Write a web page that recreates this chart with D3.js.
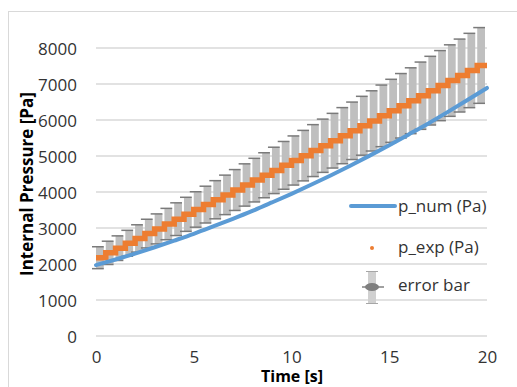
<html>
<head>
<script src="https://d3js.org/d3.v7.min.js"></script>
<style>
  body { margin: 0; background: #fff; }
  text { font-family: "Open Sans", sans-serif; }
</style>
</head>
<body>
<div id="container"></div>
<script>
// numerical model, every 1 s
const numTime = [0, 1, 2, 3, 4, 5, 6, 7, 8, 9, 10, 11, 12, 13, 14, 15, 16, 17, 18, 19, 20]
const numPressure = [1970, 2125, 2290, 2465, 2650, 2840, 3045, 3255, 3475, 3710, 3950,
  4200, 4460, 4730, 5010, 5300, 5600, 5905, 6225, 6555, 6890]

// experiment, held over 0.5 s steps (step start times)
const expTime = [0, 0.5, 1, 1.5, 2, 2.5, 3, 3.5, 4, 4.5, 5, 5.5, 6, 6.5, 7, 7.5, 8, 8.5, 9, 9.5,
  10, 10.5, 11, 11.5, 12, 12.5, 13, 13.5, 14, 14.5, 15, 15.5, 16, 16.5, 17, 17.5, 18, 18.5, 19, 19.5]
const expPressure = [2175, 2310, 2440, 2575, 2710, 2845, 2975, 3110, 3245, 3380,
  3515, 3650, 3785, 3920, 4055, 4195, 4330, 4465, 4600, 4740,
  4875, 5010, 5150, 5285, 5425, 5565, 5700, 5840, 5975, 6115,
  6255, 6395, 6535, 6675, 6815, 6955, 7095, 7235, 7375, 7515]
const stepWidth = 0.5
const errorPct = 0.14

const xTicks = [0, 5, 10, 15, 20]
const yTicks = [0, 1000, 2000, 3000, 4000, 5000, 6000, 7000, 8000]
const legendLabels = ['p_num (Pa)', 'p_exp (Pa)', 'error bar']

const width = 517, height = 387
const svg = d3.select('#container').append('svg')
  .attr('width', width).attr('height', height)

// chart area border
svg.append('rect')
  .attr('x', 8.5).attr('y', 11.5).attr('width', 540).attr('height', 420)
  .attr('fill', 'none').attr('stroke', '#d9d9d9')

const x = d3.scaleLinear().domain([0, 20]).range([96, 487])
const y = d3.scaleLinear().domain([0, 8000]).range([336, 48])

// gridlines
svg.append('g').selectAll('line').data(yTicks).join('line')
  .attr('x1', x(0)).attr('x2', x(20))
  .attr('y1', d => y(d)).attr('y2', d => y(d))
  .attr('stroke', '#d9d9d9').attr('stroke-width', 1.3)

// y tick labels
const yAxis = d3.axisLeft(y).tickValues(yTicks).tickSize(0).tickPadding(0).tickFormat(d3.format('d'))
svg.append('g').attr('transform', 'translate(77,0)').call(yAxis)
  .call(g => g.select('.domain').remove())
  .selectAll('text').attr('font-size', 17).attr('fill', '#333')
  .attr('font-family', '"Open Sans", sans-serif').attr('dy', '0.36em')

// x tick labels
const xAxis = d3.axisBottom(x).tickValues(xTicks).tickSize(0).tickPadding(0)
svg.append('g').attr('transform', 'translate(0,349)').call(xAxis)
  .call(g => g.select('.domain').remove())
  .selectAll('text').attr('font-size', 17).attr('fill', '#333')
  .attr('font-family', '"Open Sans", sans-serif').attr('dy', '0.85em')

// error bars
const exp = expTime.map((t, i) => ({ t: t, p: expPressure[i] }))
const hi = d => y(d.p * (1 + errorPct))
const lo = d => y(d.p * (1 - errorPct))
const eb = svg.append('g')
eb.selectAll('rect').data(exp).join('rect')
  .attr('x', d => x(d.t))
  .attr('width', d => x(d.t + stepWidth) - x(d.t) - 2)
  .attr('y', hi)
  .attr('height', d => lo(d) - hi(d))
  .attr('fill', '#bfbfbf')
eb.selectAll('line.top').data(exp).join('line').attr('class', 'top')
  .attr('x1', d => x(d.t) - 4).attr('x2', d => x(d.t + stepWidth) - 2)
  .attr('y1', hi).attr('y2', hi)
  .attr('stroke', '#7a7a7a').attr('stroke-width', 1.5)
eb.selectAll('line.bot').data(exp).join('line').attr('class', 'bot')
  .attr('x1', d => x(d.t) - 4).attr('x2', d => x(d.t + stepWidth) - 2)
  .attr('y1', lo).attr('y2', lo)
  .attr('stroke', '#7a7a7a').attr('stroke-width', 1.5)

// experimental points (dense markers form a staircase)
const stepPts = exp.map(d => [d.t, d.p])
stepPts.push([20, expPressure[expPressure.length - 1]])
svg.append('path')
  .datum(stepPts)
  .attr('d', d3.line().x(d => x(d[0])).y(d => y(d[1])).curve(d3.curveStepAfter))
  .attr('fill', 'none').attr('stroke', '#ed7d31').attr('stroke-width', 5.5)

// numerical line
const line = d3.line().x(d => x(d[0])).y(d => y(d[1])).curve(d3.curveMonotoneX)
svg.append('path')
  .datum(numTime.map((t, i) => [t, numPressure[i]]))
  .attr('d', line)
  .attr('fill', 'none').attr('stroke', '#5b9bd5').attr('stroke-width', 4)
  .attr('stroke-linecap', 'round')

// axis titles
svg.append('text')
  .attr('transform', 'translate(33,184) rotate(-90)')
  .attr('text-anchor', 'middle').attr('font-size', 17).attr('font-weight', 'bold')
  .attr('fill', '#000').text('Internal Pressure [Pa]')
svg.append('text')
  .attr('x', 292).attr('y', 382)
  .attr('text-anchor', 'middle').attr('font-size', 16).attr('font-weight', 'bold')
  .attr('fill', '#000').text('Time [s]')

// legend
const lg = svg.append('g')
lg.append('line').attr('x1', 351).attr('x2', 395).attr('y1', 206).attr('y2', 206)
  .attr('stroke', '#5b9bd5').attr('stroke-width', 4).attr('stroke-linecap', 'round')
lg.append('circle').attr('cx', 372).attr('cy', 248).attr('r', 2)
  .attr('fill', '#ed7d31')
lg.append('rect').attr('x', 368).attr('y', 271).attr('width', 8).attr('height', 33)
  .attr('fill', '#d0d0d0')
lg.append('line').attr('x1', 366).attr('x2', 378).attr('y1', 271.5).attr('y2', 271.5)
  .attr('stroke', '#a6a6a6')
lg.append('line').attr('x1', 366).attr('x2', 378).attr('y1', 303.5).attr('y2', 303.5)
  .attr('stroke', '#a6a6a6')
lg.append('line').attr('x1', 362).attr('x2', 384).attr('y1', 287).attr('y2', 287)
  .attr('stroke', '#808080').attr('stroke-width', 1.5)
lg.append('ellipse').attr('cx', 372).attr('cy', 287).attr('rx', 7).attr('ry', 4)
  .attr('fill', '#7f7f7f')
lg.selectAll('text').data(legendLabels).join('text')
  .attr('x', 398).attr('y', (d, i) => [212, 253, 291][i])
  .attr('font-size', 17).attr('fill', '#333').text(d => d)
</script>
</body>
</html>
